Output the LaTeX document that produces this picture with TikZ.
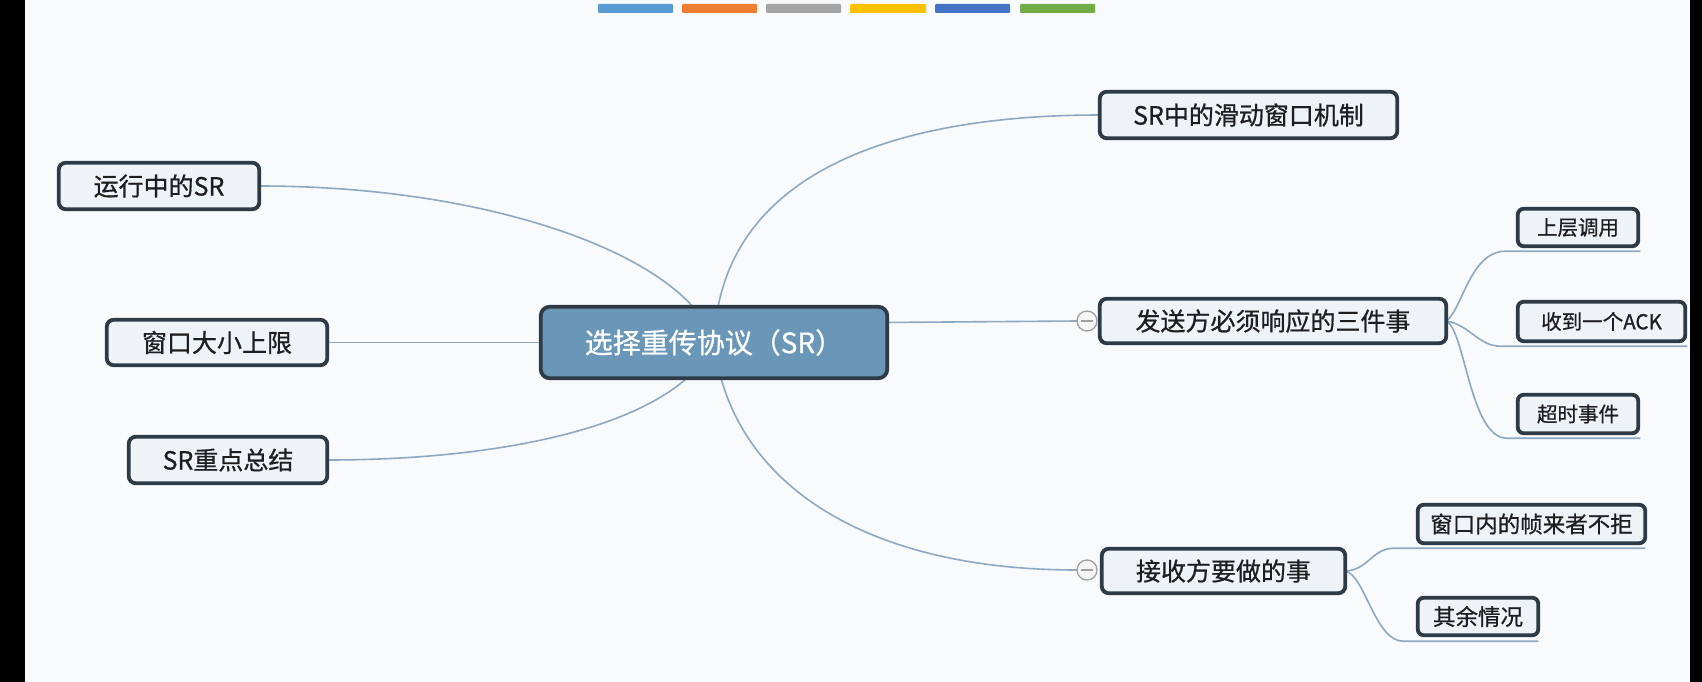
\documentclass[tikz,border=0pt]{standalone}
\usepackage{fontspec}
\newfontfamily\cjk[FakeBold=0.7]{Noto Sans CJK SC}
\usetikzlibrary{calc}
\definecolor{bgc}{RGB}{249,250,251}
\definecolor{nodefill}{RGB}{238,243,248}
\definecolor{nodeborder}{RGB}{46,59,71}
\definecolor{centerfill}{RGB}{106,151,184}
\definecolor{linec}{RGB}{139,169,195}
\definecolor{txt}{RGB}{30,30,30}
\definecolor{barA}{RGB}{91,155,213}
\definecolor{barB}{RGB}{237,125,49}
\definecolor{barC}{RGB}{165,165,165}
\definecolor{barD}{RGB}{255,192,0}
\definecolor{barE}{RGB}{68,114,196}
\definecolor{barF}{RGB}{112,173,71}
\pgfdeclarelayer{bglayer}
\pgfdeclarelayer{edgelayer}
\pgfsetlayers{bglayer,edgelayer,main}
\begin{document}
\begin{tikzpicture}[x=1pt,y=-1pt,
  topic/.style={draw=nodeborder, line width=3.8pt, fill=nodefill, rounded corners=7pt,
    inner sep=0pt, outer sep=0pt, text=txt, font=\cjk\fontsize{25}{30}\selectfont},
  subtopic/.style={topic, rounded corners=6pt, font=\cjk\fontsize{20.5}{24}\selectfont},
  subtopicB/.style={topic, rounded corners=6pt, font=\cjk\fontsize{22.5}{26}\selectfont},
  central/.style={topic, fill=centerfill, rounded corners=9pt, text=white,
    font=\cjk\fontsize{28}{34}\selectfont},
  conn/.style={draw=linec, line width=1.6pt},
  collapse/.style={circle, draw=gray!75, line width=1.3pt, fill=white!96!black,
    minimum size=20pt, inner sep=0pt, outer sep=0pt,
    path picture={\draw[gray!75, line width=1.3pt]
      ([xshift=4pt]path picture bounding box.west) -- ([xshift=-4pt]path picture bounding box.east);}},
  colorbar/.style={rounded corners=1pt}
]
\useasboundingbox (0,0) rectangle (1702,682);
\begin{pgfonlayer}{bglayer}
  \fill[bgc] (0,0) rectangle (1702,682);
  \fill[black] (0,0) rectangle (25,682);
  \fill[black] (1690,0) rectangle (1702,682);
  \fill[barA,colorbar] (598,4) rectangle (673,13);
  \fill[barB,colorbar] (682,4) rectangle (757,13);
  \fill[barC,colorbar] (766,4) rectangle (841,13);
  \fill[barD,colorbar] (850,4) rectangle (926,13);
  \fill[barE,colorbar] (935,4) rectangle (1010,13);
  \fill[barF,colorbar] (1020,4) rectangle (1095,13);
\end{pgfonlayer}

% nodes
\node[central, minimum width=346.5pt, minimum height=71.5pt] (c) at (714,342.5) {选择重传协议（SR）};
\node[topic, minimum width=200.5pt, minimum height=46.5pt] (run) at (159,186) {运行中的SR};
\node[topic, minimum width=220.5pt, minimum height=45.5pt] (win) at (217,342.5) {窗口大小上限};
\node[topic, minimum width=198.5pt, minimum height=46.5pt] (sum) at (228,460) {SR重点总结};
\node[topic, minimum width=297.5pt, minimum height=46.5pt] (slide) at (1248.5,115) {SR中的滑动窗口机制};
\node[topic, minimum width=346.5pt, minimum height=44.5pt] (send) at (1273,321) {发送方必须响应的三件事};
\node[topic, minimum width=243.5pt, minimum height=44.5pt] (recv) at (1223.5,571) {接收方要做的事};
\node[subtopic, minimum width=120.5pt, minimum height=37.5pt] (up) at (1578,227.5) {上层调用};
\node[subtopic, minimum width=167.5pt, minimum height=39.5pt] (ack) at (1601.5,321.5) {收到一个ACK};
\node[subtopic, minimum width=120.5pt, minimum height=38.5pt] (tmo) at (1578,414) {超时事件};
\node[subtopicB, minimum width=227.5pt, minimum height=38.5pt] (inw) at (1531.5,524) {窗口内的帧来者不拒};
\node[subtopicB, minimum width=120.5pt, minimum height=37.5pt] (rest) at (1478,616.5) {其余情况};
\node[collapse] (cs) at (1087,321) {};
\node[collapse] (cr) at (1087,570) {};

% connectors
\begin{pgfonlayer}{edgelayer}
  \draw[conn] (run.east) .. controls (500,186) and (690,260) .. (c.center);
  \draw[conn] (win.east) -- (c.center);
  \draw[conn] (sum.east) .. controls (520,460) and (680,420) .. (c.center);
  \draw[conn] (slide.west) .. controls (880,115) and (720,180) .. (c.center);
  \draw[conn] ($(c.east)+(-4,-20)$) -- (cs.west);
  \draw[conn] (c.center) .. controls (730,480) and (860,570) .. (cr.west);
  \draw[conn] (send.east) .. controls (1462,310) and (1470,252) .. ($(up.south west)+(-13,5)$) -- ($(up.south east)+(2,5)$);
  \draw[conn] (send.east) .. controls (1470,325) and (1478,346) .. ($(ack.south west)+(-17,5)$) -- ($(ack.south east)+(2,5)$);
  \draw[conn] (send.east) .. controls (1465,330) and (1470,438) .. ($(tmo.south west)+(-11,5)$) -- ($(tmo.south east)+(2,5)$);
  \draw[conn] (recv.east) .. controls (1368,570) and (1372,549) .. ($(inw.south west)+(-25,5)$) -- ($(inw.south east)+(0,5)$);
  \draw[conn] (recv.east) .. controls (1365,575) and (1375,642) .. ($(rest.south west)+(-14,6)$) -- ($(rest.south east)+(0,6)$);
\end{pgfonlayer}
\end{tikzpicture}
\end{document}
